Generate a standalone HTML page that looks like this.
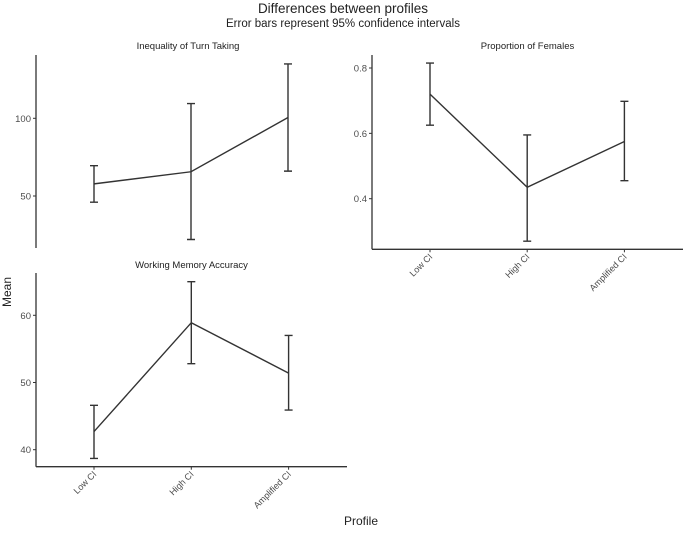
<!DOCTYPE html>
<html><head><meta charset="utf-8"><style>
body{margin:0;background:#fff;font-family:"Liberation Sans",sans-serif}
svg text{font-family:"Liberation Sans",sans-serif}
</style></head><body>
<svg id="chart" width="685" height="528" viewBox="0 0 685 528">
<text x="343" y="13" text-anchor="middle" font-size="13.5" fill="#222">Differences between profiles</text>
<text x="343" y="27" text-anchor="middle" font-size="11.5" fill="#222">Error bars represent 95% confidence intervals</text>
<text transform="translate(11,292) rotate(-90)" text-anchor="middle" font-size="12" fill="#222">Mean</text>
<text x="361" y="525" text-anchor="middle" font-size="12" fill="#222">Profile</text>
<g id="panels"></g>
</svg>
<script>
const categories = ["Low CI","High CI","Amplified CI"];
const turnMean = [57.8, 65.6, 100.5];
const turnLow = [46, 22, 66];
const turnHigh = [69.5, 109.5, 135];
const femMean = [0.72, 0.435, 0.575];
const femLow = [0.625, 0.27, 0.455];
const femHigh = [0.815, 0.595, 0.698];
const wmMean = [42.7, 58.9, 51.4];
const wmLow = [38.7, 52.8, 45.9];
const wmHigh = [46.6, 65.0, 57.0];
const turnTicks = [50, 100];
const femTicks = [0.4, 0.6, 0.8];
const wmTicks = [40, 50, 60];

const NS = "http://www.w3.org/2000/svg";
const root = document.getElementById("panels");
function mk(tag, attrs, parent){const e=document.createElementNS(NS,tag);for(const k in attrs)e.setAttribute(k,attrs[k]);parent.appendChild(e);return e;}

function panel(cfg){
  const g = mk("g",{},root);
  
  
  const y = v => cfg.y0 + (v - cfg.v0) * (cfg.y1 - cfg.y0) / (cfg.v1 - cfg.v0);
  const x = i => cfg.xs + i * cfg.dx;
  const t = mk("text",{x:(cfg.ax+cfg.axEnd)/2,y:cfg.titleY,"text-anchor":"middle","font-size":"9.5",fill:"#222"},g);
  t.textContent = cfg.title;
  
  
  const ya = mk("line",{x1:cfg.ax,x2:cfg.ax,y1:cfg.top,y2:cfg.bottom,stroke:"#333","stroke-width":"1.3"},g);
  
  
  cfg.ticks.forEach(v=>{
    mk("line",{x1:cfg.ax-3,x2:cfg.ax,y1:y(v),y2:y(v),stroke:"#333","stroke-width":"1"},g);
    const tl = mk("text",{x:cfg.ax-5,y:y(v)+3.5,"text-anchor":"end","font-size":"9.5",fill:"#4d4d4d"},g);
    tl.textContent = String(v);
    
    
  });
  if(cfg.xAxis){
    const xa = mk("line",{x1:cfg.ax,x2:cfg.axEnd,y1:cfg.bottom,y2:cfg.bottom,stroke:"#333","stroke-width":"1.3"},g);
    
    
    categories.forEach((c,i)=>{
      mk("line",{x1:x(i),x2:x(i),y1:cfg.bottom,y2:cfg.bottom+3,stroke:"#333","stroke-width":"1"},g);
      const tl = mk("text",{transform:`translate(${x(i)+3},${cfg.bottom+8}) rotate(-45)`,"text-anchor":"end","font-size":"9",fill:"#4d4d4d"},g);
      tl.textContent = c;
      
      
    });
  }
  const pts = cfg.mean.map((v,i)=>x(i)+","+y(v)).join(" ");
  const line = mk("polyline",{points:pts,fill:"none",stroke:"#333","stroke-width":"1.4"},g);
  
  
  cfg.mean.forEach((v,i)=>{
    const eb = mk("path",{d:`M${x(i)-4},${y(cfg.hi[i])}H${x(i)+4}M${x(i)},${y(cfg.hi[i])}V${y(cfg.lo[i])}M${x(i)-4},${y(cfg.lo[i])}H${x(i)+4}`,fill:"none",stroke:"#333","stroke-width":"1.4"},g);
    
    
  });
}
panel({name:"panel-turn-taking",title:"Inequality of Turn Taking",titleY:49,ax:36,axEnd:340,top:55,bottom:248,xAxis:false,
  xs:94,dx:97,v0:50,y0:196,v1:100,y1:118.3,ticks:turnTicks,mean:turnMean,lo:turnLow,hi:turnHigh});
panel({name:"panel-females",title:"Proportion of Females",titleY:49,ax:372,axEnd:683,top:55,bottom:249.3,xAxis:true,
  xs:430,dx:97.2,v0:0.4,y0:198.7,v1:0.8,y1:68,ticks:femTicks,mean:femMean,lo:femLow,hi:femHigh});
panel({name:"panel-working-memory",title:"Working Memory Accuracy",titleY:268,ax:36,axEnd:347,top:273,bottom:466.7,xAxis:true,
  xs:94,dx:97.3,v0:40,y0:449.7,v1:60,y1:315.3,ticks:wmTicks,mean:wmMean,lo:wmLow,hi:wmHigh});
</script>
</body></html>
